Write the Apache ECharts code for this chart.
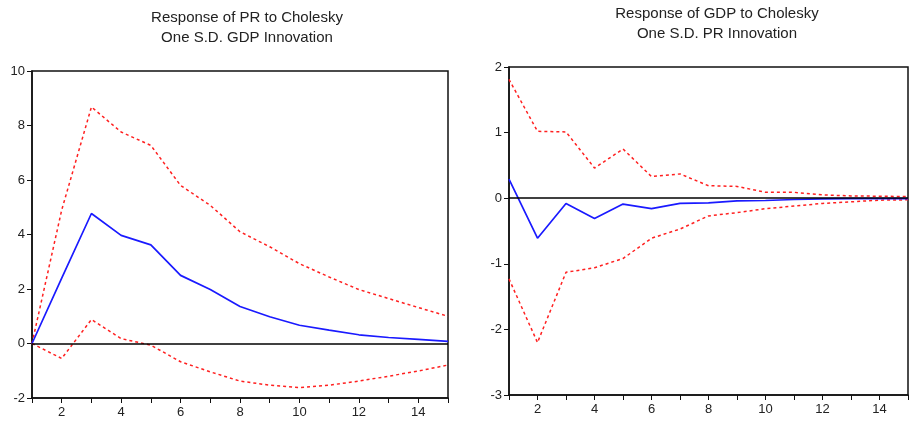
<!DOCTYPE html>
<html><head><meta charset="utf-8">
<script src="https://cdn.jsdelivr.net/npm/echarts@6/dist/echarts.min.js"></script>
<style>html,body{margin:0;padding:0;background:#fff}#c{width:911px;height:424px}</style>
</head><body><div id="c"></div>
<script>
const periods = [1,2,3,4,5,6,7,8,9,10,11,12,13,14,15];
// Left: Response of PR to Cholesky One S.D. GDP Innovation
const prResp  = [0, 2.4, 4.77, 3.97, 3.62, 2.5, 1.98, 1.36, 0.98, 0.67, 0.49, 0.32, 0.22, 0.15, 0.08];
const prUpper = [0, 4.9, 8.68, 7.76, 7.27, 5.8, 5.07, 4.1, 3.55, 2.93, 2.44, 1.98, 1.65, 1.32, 1.0];
const prLower = [0, -0.55, 0.88, 0.18, -0.06, -0.67, -1.04, -1.38, -1.53, -1.62, -1.53, -1.38, -1.2, -1.01, -0.79];
// Right: Response of GDP to Cholesky One S.D. PR Innovation
const gdpResp  = [0.29, -0.61, -0.08, -0.31, -0.09, -0.16, -0.08, -0.07, -0.04, -0.035, -0.02, -0.01, -0.005, -0.005, -0.005];
const gdpUpper = [1.81, 1.02, 1.01, 0.46, 0.75, 0.33, 0.37, 0.19, 0.18, 0.09, 0.09, 0.05, 0.035, 0.03, 0.025];
const gdpLower = [-1.23, -2.2, -1.13, -1.06, -0.92, -0.61, -0.47, -0.27, -0.22, -0.16, -0.12, -0.08, -0.055, -0.03, -0.025];
const titles = ['Response of PR to Cholesky\nOne S.D. GDP Innovation', 'Response of GDP to Cholesky\nOne S.D. PR Innovation'];

const pairs = a => periods.map((p,i)=>[p,a[i]]);
const font = 'Liberation Sans, Arial, sans-serif';
const axisLine = {show:true, onZero:false, lineStyle:{color:'#111', width:1.5}};
function xAx(gi){
  return {type:'value', gridIndex:gi, min:1, max:15, interval:1,
    axisLine:axisLine, axisTick:{show:true, length:5, lineStyle:{color:'#111'}},
    axisLabel:{fontFamily:font, fontSize:13, color:'#222', margin:8, formatter:v=> v%2===0 ? String(v) : ''},
    splitLine:{show:false}};
}
function yAx(gi,min,max,interval){
  return {type:'value', gridIndex:gi, min:min, max:max, interval:interval,
    axisLine:axisLine, axisTick:{show:true, length:5, lineStyle:{color:'#111'}},
    axisLabel:{fontFamily:font, fontSize:13, color:'#222', margin:7},
    splitLine:{show:false}};
}
function line(gi, data, color, dashed, extra){
  return Object.assign({type:'line', xAxisIndex:gi, yAxisIndex:gi, data:pairs(data), symbol:'none', silent:true,
    lineStyle:{color:color, width: dashed ? 1.5 : 1.7, type: dashed ? [3,3] : 'solid'}, z: dashed?3:4}, extra||{});
}
const zeroMark = {silent:true, symbol:['none','none'], label:{show:false},
  lineStyle:{color:'#000', width:1.5, type:'solid'}, data:[{yAxis:0}]};

const chart = echarts.init(document.getElementById('c'), null, {renderer:'canvas'});
chart.setOption({
  animation:false,
  backgroundColor:'#fff',
  title:[
    {text:titles[0], left:242, top:3, textAlign:'center', textStyle:{fontFamily:font, fontSize:15, fontWeight:'normal', color:'#222', lineHeight:20}},
    {text:titles[1], left:712, top:-1, textAlign:'center', textStyle:{fontFamily:font, fontSize:15, fontWeight:'normal', color:'#222', lineHeight:20}}
  ],
  grid:[
    {left:32, right:463, top:71, bottom:26, show:true, borderColor:'#111', borderWidth:1.5, backgroundColor:'transparent'},
    {left:509, right:1, top:67, bottom:29, show:true, borderColor:'#111', borderWidth:1.5, backgroundColor:'transparent'}
  ],
  xAxis:[xAx(0), xAx(1)],
  yAxis:[yAx(0,-2,10,2), yAx(1,-3,2,1)],
  series:[
    line(0, prUpper, '#ff2020', true),
    line(0, prLower, '#ff2020', true),
    line(0, prResp, '#1a1aff', false, {markLine:zeroMark}),
    line(1, gdpUpper, '#ff2020', true),
    line(1, gdpLower, '#ff2020', true),
    line(1, gdpResp, '#1a1aff', false, {markLine:zeroMark})
  ]
});
</script></body></html>
